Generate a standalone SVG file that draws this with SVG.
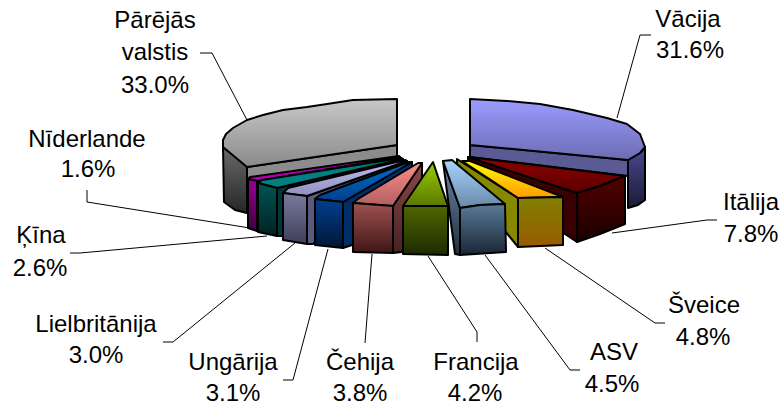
<svg xmlns="http://www.w3.org/2000/svg" width="781" height="405" viewBox="0 0 781 405">
<defs>
<style>
.f{stroke:#000;stroke-width:2;stroke-linejoin:round}
.t{font-family:"Liberation Sans",Arial,sans-serif;font-size:24px;text-anchor:middle;fill:#000}
.ld{fill:none;stroke:#000;stroke-width:1}
</style>
<linearGradient id="gTop" x1="0" y1="0" x2="0" y2="1"><stop offset="0" stop-color="#c8c8c8"/><stop offset="1" stop-color="#8a8a8a"/></linearGradient>
<linearGradient id="gSide" x1="0" y1="0" x2="0" y2="1"><stop offset="0" stop-color="#6a6a6a"/><stop offset="1" stop-color="#262626"/></linearGradient>
<linearGradient id="vTop" x1="0" y1="0" x2="0" y2="1"><stop offset="0" stop-color="#9c9cff"/><stop offset="1" stop-color="#6c6cb4"/></linearGradient>
<linearGradient id="vSide" x1="0" y1="0" x2="0" y2="1"><stop offset="0" stop-color="#4a4a90"/><stop offset="1" stop-color="#1a1a38"/></linearGradient>
<linearGradient id="rTop" x1="0" y1="0" x2="0" y2="1"><stop offset="0" stop-color="#900000"/><stop offset="1" stop-color="#5a0000"/></linearGradient>
<linearGradient id="rFr" x1="0" y1="0" x2="0" y2="1"><stop offset="0" stop-color="#520000"/><stop offset="1" stop-color="#1a0000"/></linearGradient>
<linearGradient id="oTop" x1="0" y1="0" x2="0" y2="1"><stop offset="0" stop-color="#ffff00"/><stop offset="1" stop-color="#ff9900"/></linearGradient>
<linearGradient id="oFr" x1="0" y1="0" x2="0" y2="1"><stop offset="0" stop-color="#808000"/><stop offset="1" stop-color="#9a5a00"/></linearGradient>
<linearGradient id="sTop" x1="0" y1="0" x2="0" y2="1"><stop offset="0" stop-color="#a8d4ff"/><stop offset="1" stop-color="#6888a8"/></linearGradient>
<linearGradient id="sFr" x1="0" y1="0" x2="0" y2="1"><stop offset="0" stop-color="#5a7a98"/><stop offset="1" stop-color="#1a2636"/></linearGradient>
<linearGradient id="sCut" x1="0" y1="0" x2="0" y2="1"><stop offset="0" stop-color="#6a88a8"/><stop offset="1" stop-color="#203040"/></linearGradient>
<linearGradient id="grTop" x1="0" y1="0" x2="0" y2="1"><stop offset="0" stop-color="#99cc00"/><stop offset="1" stop-color="#5a7800"/></linearGradient>
<linearGradient id="grFr" x1="0" y1="0" x2="0" y2="1"><stop offset="0" stop-color="#4f6600"/><stop offset="1" stop-color="#1e2a00"/></linearGradient>
<linearGradient id="cTop" x1="0" y1="0" x2="0" y2="1"><stop offset="0" stop-color="#ff8c8c"/><stop offset="1" stop-color="#b06060"/></linearGradient>
<linearGradient id="cFr" x1="0" y1="0" x2="0" y2="1"><stop offset="0" stop-color="#a05050"/><stop offset="1" stop-color="#3e1616"/></linearGradient>
<linearGradient id="cCut" x1="0" y1="0" x2="0" y2="1"><stop offset="0" stop-color="#8a4a4a"/><stop offset="1" stop-color="#4a2020"/></linearGradient>
<linearGradient id="bTop" x1="0" y1="0" x2="0" y2="1"><stop offset="0" stop-color="#0070d0"/><stop offset="1" stop-color="#003f8a"/></linearGradient>
<linearGradient id="bFr" x1="0" y1="0" x2="0" y2="1"><stop offset="0" stop-color="#004090"/><stop offset="1" stop-color="#001535"/></linearGradient>
<linearGradient id="lTop" x1="0" y1="0" x2="0" y2="1"><stop offset="0" stop-color="#c0c0f0"/><stop offset="1" stop-color="#9090c0"/></linearGradient>
<linearGradient id="lFr" x1="0" y1="0" x2="0" y2="1"><stop offset="0" stop-color="#7a7aa0"/><stop offset="1" stop-color="#3e3e58"/></linearGradient>
<linearGradient id="tFr" x1="0" y1="0" x2="0" y2="1"><stop offset="0" stop-color="#005555"/><stop offset="1" stop-color="#002222"/></linearGradient>
<linearGradient id="pFr" x1="0" y1="0" x2="0" y2="1"><stop offset="0" stop-color="#990099"/><stop offset="1" stop-color="#3c003c"/></linearGradient>
</defs>

<g id="connectors">
<polyline class="ld" points="200,53 212,53 247,120"/>
<polyline class="ld" points="651,35 640,35 617,118"/>
<polyline class="ld" points="717,220 707,220 612,233"/>
<polyline class="ld" points="665,323 655,323 545,248"/>
<polyline class="ld" points="580,370 570,370 485,255"/>
<polyline class="ld" points="477,342 477,332 428,256"/>
<polyline class="ld" points="365,343 372,254"/>
<polyline class="ld" points="283,380 293,380 328,249"/>
<polyline class="ld" points="163,342 173,342 295,243"/>
<polyline class="ld" points="70,253 80,253 267,236"/>
<polyline class="ld" points="87,190 87,202 250,228"/>
</g>

<g id="slice-parejas">
<polygon class="f" fill="#8c8c8c" points="247,167 397,145 397,158 247,180"/>
<polygon class="f" fill="url(#gSide)" points="223,147 247,166 247,213 235,210 224,202"/>
<polygon class="f" fill="url(#gTop)" points="223,140 226,134 233,128 247,120 263,115 283,110 307,107 327,104 353,100 397,99 397,145 247,167 223,147"/>
</g>

<g id="slice-vacija">
<polygon class="f" fill="#5a5a94" points="470,145 628,160 628,176 470,157"/>
<polygon class="f" fill="url(#vSide)" points="628,160 640,153 645,147 645,200 638,205 628,208"/>
<polygon class="f" fill="url(#vTop)" points="470,99 507,101 540,104 573,110 607,118 627,124 640,134 645,147 640,153 628,160 470,145"/>
</g>

<g id="slice-italija">
<polygon class="f" fill="#380000" points="468,157 577,193 577,242 468,170"/>
<polygon class="f" fill="url(#rTop)" points="468,157 625,176 600,186 577,193"/>
<polygon class="f" fill="url(#rFr)" points="577,193 600,186 625,176 625,224 600,234 577,242"/>
</g>

<g id="slice-sveice">
<polygon class="f" fill="#888800" points="457,159 518,198 518,247 457,172"/>
<polygon class="f" fill="url(#oTop)" points="462,161 470,161 563,197 518,198"/>
<polygon class="f" fill="url(#oFr)" points="518,198 563,197 563,245 518,247"/>
</g>

<g id="slice-asv">
<polygon class="f" fill="url(#sCut)" points="443,161 460,208 460,255 455,254"/>
<polygon class="f" fill="url(#sTop)" points="443,161 452,160 505,204 480,205 460,208"/>
<polygon class="f" fill="url(#sFr)" points="460,208 480,205 505,204 506,252 460,255"/>
</g>

<g id="slice-niderlande">
<polygon class="f" fill="#500050" points="257,181 400,157 400,166 262,231 257,231"/>
<polygon class="f" fill="#b000b0" points="248,179 250,177 399,156 400,157 257,181"/>
<polygon class="f" fill="url(#pFr)" points="248,179 257,181 257,231 248,228"/>
</g>

<g id="slice-kina">
<polygon class="f" fill="#003838" points="277,188 403,159 403,170 283,236 277,236"/>
<polygon class="f" fill="#008080" points="258,183 262,180 401,158 403,159 277,188"/>
<polygon class="f" fill="url(#tFr)" points="258,183 277,188 277,236 258,232"/>
</g>

<g id="slice-lielbritanija">
<polygon class="f" fill="#5a5a80" points="307,196 407,161 407,172 313,244 307,244"/>
<polygon class="f" fill="url(#lTop)" points="283,193 288,188 405,160 407,161 307,196"/>
<polygon class="f" fill="url(#lFr)" points="283,193 307,196 307,244 283,240"/>
</g>

<g id="slice-ungarija">
<polygon class="f" fill="#002e68" points="343,202 412,162 412,178 352,245 343,248"/>
<polygon class="f" fill="url(#bTop)" points="315,199 320,195 409,162 412,162 343,202"/>
<polygon class="f" fill="url(#bFr)" points="315,199 343,202 343,248 315,245"/>
</g>

<g id="slice-cehija">
<polygon class="f" fill="url(#cCut)" points="393,206 422,163 422,215 402,252 393,253"/>
<polygon class="f" fill="url(#cTop)" points="353,203 358,199 418,163 422,163 393,206"/>
<polygon class="f" fill="url(#cFr)" points="353,203 393,206 393,253 353,252"/>
</g>

<g id="slice-francija">
<polygon class="f" fill="url(#grTop)" points="403,206 433,162 448,206"/>
<polygon class="f" fill="url(#grFr)" points="403,206 448,206 448,255 403,254"/>
</g>

<g id="labels">
<text class="t" x="155" y="28">Pārējās</text>
<text class="t" x="155" y="60">valstis</text>
<text class="t" x="155" y="93">33.0%</text>
<text class="t" x="688" y="27">Vācija</text>
<text class="t" x="690" y="58">31.6%</text>
<text class="t" x="751" y="210">Itālija</text>
<text class="t" x="751" y="242">7.8%</text>
<text class="t" x="704" y="313">Šveice</text>
<text class="t" x="703" y="345">4.8%</text>
<text class="t" x="614" y="360">ASV</text>
<text class="t" x="612" y="392">4.5%</text>
<text class="t" x="476" y="370">Francija</text>
<text class="t" x="475" y="401">4.2%</text>
<text class="t" x="360" y="370">Čehija</text>
<text class="t" x="360" y="401">3.8%</text>
<text class="t" x="233" y="370">Ungārija</text>
<text class="t" x="233" y="401">3.1%</text>
<text class="t" x="96" y="332">Lielbritānija</text>
<text class="t" x="96" y="363">3.0%</text>
<text class="t" x="41" y="243">Ķīna</text>
<text class="t" x="40" y="276">2.6%</text>
<text class="t" x="87" y="147">Nīderlande</text>
<text class="t" x="88" y="177">1.6%</text>
</g>
</svg>
